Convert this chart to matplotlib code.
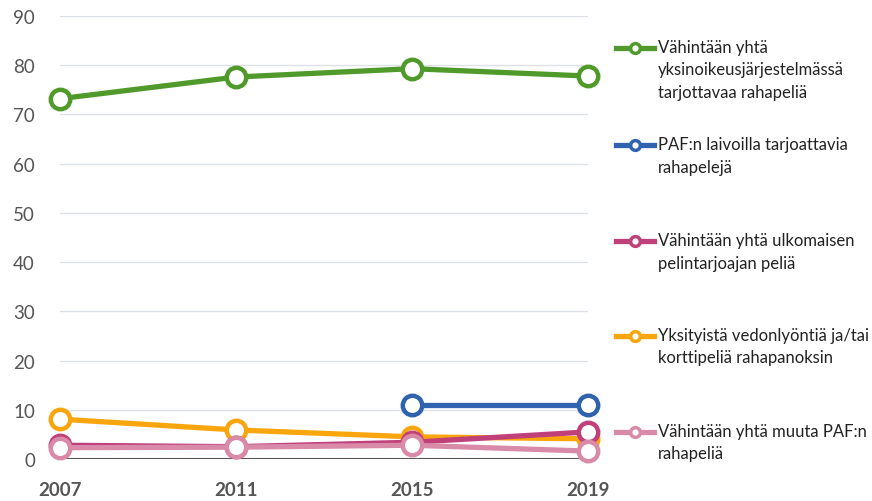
import matplotlib
matplotlib.use("Agg")
import matplotlib.pyplot as plt
from matplotlib.lines import Line2D
import numpy as np

years = [2007, 2011, 2015, 2019]
labels = [
    "Vähintään yhtä\nyksinoikeusjärjestelmässä\ntarjottavaa rahapeliä",
    "PAF:n laivoilla tarjoattavia\nrahapelejä",
    "Vähintään yhtä ulkomaisen\npelintarjoajan peliä",
    "Yksityistä vedonlyöntiä ja/tai\nkorttipeliä rahapanoksin",
    "Vähintään yhtä muuta PAF:n\nrahapeliä",
]
green = [73.2, 77.6, 79.3, 77.8]
blue = [np.nan, np.nan, 11.0, 11.0]
magenta = [2.8, 2.5, 3.4, 5.5]
orange = [8.1, 5.9, 4.5, 4.1]
pink = [2.3, 2.4, 2.8, 1.6]
series = [green, blue, magenta, orange, pink]
colors = ["#4f9a2a", "#2f63b0", "#c0407a", "#f9a50e", "#d98aa8"]
yticks = [0, 10, 20, 30, 40, 50, 60, 70, 80, 90]

plt.rcParams['font.family'] = ['Lato', 'DejaVu Sans']

fig = plt.figure(figsize=(8.72, 5.02), dpi=100)
ax = fig.add_axes([60/872, (502-460)/502, (588-60)/872, (460-17)/502])

x = np.arange(len(years))
order = [1, 3, 2, 4, 0]
for i in order:
    ax.plot(x, series[i], color=colors[i], lw=3.8, marker='o', ms=14,
            mfc='white', mec=colors[i], mew=3.2, zorder=3 + order.index(i),
            clip_on=False, solid_capstyle='round')

ax.set_ylim(0, 90)
ax.set_xlim(0, 3)
ax.set_yticks(yticks)
ax.set_yticklabels([str(v) for v in yticks])
ax.set_xticks(x)
ax.set_xticklabels([str(y) for y in years], fontweight='bold')
ax.tick_params(axis='x', length=0, pad=16, labelsize=13.5, labelcolor='#555555')
ax.tick_params(axis='y', length=0, pad=18, labelsize=13.5, labelcolor='#555555')
ax.grid(axis='y', color='#dde1e6', lw=1)
ax.set_axisbelow(True)
for s in ax.spines.values():
    s.set_visible(False)
ax.axhline(0, color='#555555', lw=1.5, zorder=2)

# custom legend
leg_y = [49, 146, 242, 337, 433]
for i, yy in enumerate(leg_y):
    fy = 1 - yy/502
    fig.add_artist(Line2D([616/872, 654/872], [fy, fy], color=colors[i], lw=3.8,
                          transform=fig.transFigure))
    fig.add_artist(Line2D([635/872], [fy], color=colors[i], lw=0, marker='o',
                          ms=7, mfc='white', mec=colors[i], mew=2.5,
                          transform=fig.transFigure))
    fig.text(658/872, fy + 9/502, labels[i], fontsize=12, color='#222222',
             va='top', ha='left', linespacing=1.5)

fig.savefig("out.png", dpi=100)
